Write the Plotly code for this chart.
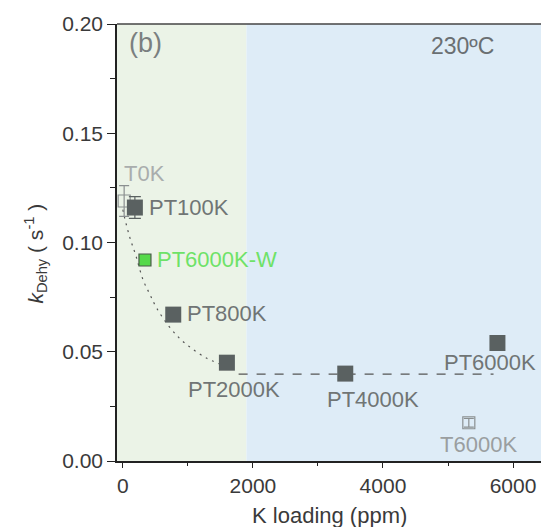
import plotly.graph_objects as go

# ---- data ----
samples = ["T0K", "PT100K", "PT6000K-W", "PT800K", "PT2000K", "PT4000K", "PT6000K", "T6000K"]
k_loading = [20, 185, 340, 775, 1600, 3420, 5760, 5320]
k_dehy = [0.119, 0.116, 0.092, 0.067, 0.045, 0.040, 0.054, 0.0175]
k_err = [0.007, 0.005, 0.0, 0.0, 0.0, 0.0, 0.0, 0.002]

# decay guide (dotted) and plateau guide (dashed)
guide_x = [0, 30, 110, 200, 310, 420, 520, 700, 877, 1060, 1292, 1480]
guide_y = [0.115, 0.111, 0.102, 0.094, 0.083, 0.076, 0.070, 0.062, 0.056, 0.0515, 0.047, 0.0445]
plateau_x = [1780, 5700]
plateau_y = [0.0398, 0.0398]

green_zone = [-90, 1900]
blue_zone = [1900, 6430]

FONT = "Liberation Sans, Arial, sans-serif"
DARK = "#5a6161"

fig = go.Figure()

fig.add_trace(go.Scatter(x=guide_x, y=guide_y, mode="lines", line_shape="spline",
                         line=dict(color="#555", width=1.2, dash="2px,5px"), hoverinfo="skip"))
fig.add_trace(go.Scatter(x=plateau_x, y=plateau_y, mode="lines",
                         line=dict(color="#555", width=1.2, dash="dash"), hoverinfo="skip"))

# open-square reference samples
for i in (0, 7):
    fig.add_trace(go.Scatter(
        x=[k_loading[i]], y=[k_dehy[i]], mode="markers",
        marker=dict(symbol="square-open", size=12, color="#8a8f90", line=dict(width=1.2)),
        error_y=dict(type="data", array=[k_err[i]], color="#8a8f90", thickness=1.2, width=5)))

# filled dark squares
for i in (1, 3, 4, 5, 6):
    fig.add_trace(go.Scatter(
        x=[k_loading[i]], y=[k_dehy[i]], mode="markers",
        marker=dict(symbol="square", size=16, color=DARK),
        error_y=dict(type="data", array=[k_err[i]], color=DARK, thickness=1.2, width=6,
                     visible=k_err[i] > 0)))

# washed sample (green)
fig.add_trace(go.Scatter(
    x=[k_loading[2]], y=[k_dehy[2]], mode="markers",
    marker=dict(symbol="square", size=12, color="#55d94a", line=dict(color="#4a5a4a", width=1.2))))

# sample labels: (x shift px, y shift px, anchor, colour)
label_style = {
    "T0K": (-2, 27, "left", "#a9adad"),
    "PT100K": (12, 0, "left", "#707575"),
    "PT6000K-W": (10, 0, "left", "#6ee268"),
    "PT800K": (12, 1, "left", "#707575"),
    "PT2000K": (7, -27, "center", "#707575"),
    "PT4000K": (28, -26, "center", "#707575"),
    "PT6000K": (-7, -19, "center", "#707575"),
    "T6000K": (10, -22, "center", "#9a9ea0"),
}
for s, xv, yv in zip(samples, k_loading, k_dehy):
    dx, dy, anchor, col = label_style[s]
    fig.add_annotation(x=xv, y=yv, text=s, showarrow=False, xanchor=anchor, yanchor="middle",
                       xshift=dx, yshift=dy, font=dict(family=FONT, size=22, color=col))

fig.add_annotation(x=0.024, y=0.957, xref="paper", yref="paper", text="(b)", showarrow=False,
                   xanchor="left", yanchor="middle", font=dict(family=FONT, size=27, color="#7a7f80"))
fig.add_annotation(x=0.816, y=0.95, xref="paper", yref="paper", text="230ºC", showarrow=False,
                   xanchor="center", yanchor="middle", font=dict(family=FONT, size=23, color="#6a6f72"))

# axis titles
fig.add_annotation(x=-0.193, y=0.475, xref="paper", yref="paper", textangle=-90, showarrow=False,
                   text="<i>k</i><sub>Dehy</sub> ( s<sup>-1</sup> )", xanchor="center", yanchor="middle",
                   font=dict(family=FONT, size=21, color="#3a3a3a"))
fig.add_annotation(x=0.502, y=-0.124, xref="paper", yref="paper", showarrow=False,
                   text="K loading (ppm)", xanchor="center", yanchor="middle",
                   font=dict(family=FONT, size=22, color="#3a3a3a"))

# shaded regions
fig.add_shape(type="rect", xref="x", yref="paper", x0=green_zone[0], x1=green_zone[1], y0=0, y1=1,
              fillcolor="#ebf3e7", line_width=0, layer="below")
fig.add_shape(type="rect", xref="x", yref="paper", x0=blue_zone[0], x1=blue_zone[1], y0=0, y1=1,
              fillcolor="#deecf7", line_width=0, layer="below")
fig.add_shape(type="line", xref="paper", yref="paper", x0=0, x1=1, y0=1, y1=1,
              line=dict(color="#444", width=1.5))

fig.update_layout(
    width=541, height=527, showlegend=False,
    margin=dict(l=117, r=0, t=24, b=66),
    paper_bgcolor="white", plot_bgcolor="white",
    font=dict(family=FONT, size=21, color="#3a3a3a"),
    xaxis=dict(range=[-90, 6430], tickvals=[0, 2000, 4000, 6000], ticks="outside", ticklen=5,
               tickcolor="#222", showline=True, linecolor="#222", linewidth=1.5, showgrid=False,
               zeroline=False, tickfont=dict(size=21, color="#3a3a3a"),
               minor=dict(tickvals=[1000, 3000, 5000], ticks="outside", ticklen=3, tickcolor="#222")),
    yaxis=dict(range=[0, 0.2], tickvals=[0, 0.05, 0.10, 0.15, 0.20], tickformat=".2f",
               ticks="outside", ticklen=8, tickcolor="#222", showline=True, linecolor="#222",
               linewidth=1.5, showgrid=False, zeroline=False, tickfont=dict(size=21, color="#3a3a3a"),
               minor=dict(tickvals=[0.025, 0.075, 0.125, 0.175], ticks="outside", ticklen=5,
                          tickcolor="#222")),
)

fig.write_html("out.html")
